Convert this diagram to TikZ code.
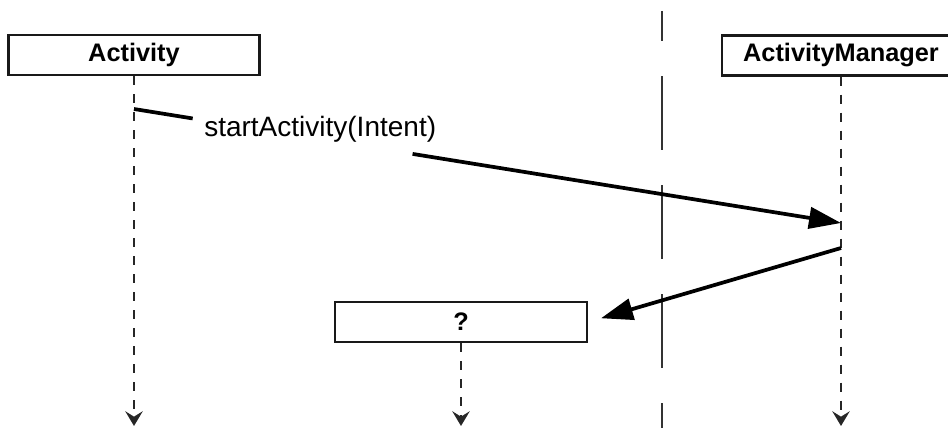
\documentclass[tikz,border=0pt]{standalone}
\usepackage{fontspec}
\setmainfont{Liberation Sans}
\usetikzlibrary{arrows.meta,calc}
\begin{document}
\begin{tikzpicture}[x=0.75pt,y=-0.75pt,
  objbox/.style={draw=black!90, line width=1.8pt, fill=white, inner sep=0pt,
    minimum height=30pt, font=\bfseries\fontsize{19}{22}\selectfont},
  lifeline/.style={draw=black!85, line width=1.7pt, dash pattern=on 6.75pt off 6.75pt,
    -{Stealth[length=11pt,width=13pt,inset=4pt]}},
  msgline/.style={draw=black, line width=2.8pt},
  msg/.style={msgline, -{Triangle[length=24pt,width=16pt]}},
  divider/.style={draw=black!80, line width=2.2pt,
    dash pattern=on 55.5pt off 26.25pt, dash phase=33pt},
  msglabel/.style={anchor=west, inner sep=0pt, font=\fontsize{21}{24}\selectfont}
]
\useasboundingbox (0,0) rectangle (948,428);
\clip (0,0) rectangle (948,428);

% system boundary
\coordinate (divtop) at (662,11);
\coordinate (divbot) at (662,428);
\draw[divider] (divtop) -- (divbot);

% participants
\node[objbox, minimum width=188pt] (act) at (134,55) {Activity};
\node[objbox, minimum width=178.5pt] (am) at (841,55.5) {ActivityManager};
\node[objbox, minimum width=189pt] (q) at (461,322) {?};

% lifelines
\coordinate (actend) at (134,426);
\coordinate (amend) at (841,426);
\coordinate (qend) at (461,426);
\draw[lifeline] (act.south) -- (actend);
\draw[lifeline] (am.south) -- (amend);
\draw[lifeline] (q.south) -- (qend);

% startActivity(Intent) message, broken around its label
\coordinate (m1s) at (134,109);
\coordinate (m1e) at (841,223);
\draw[msgline] (m1s) -- ($(m1s)!0.083!(m1e)$);
\draw[msg] ($(m1s)!0.394!(m1e)$) -- (m1e);
\node[msglabel] (lbl) at (204,129) {startActivity(Intent)};

% reply from the ActivityManager to the unknown component
\coordinate (m2s) at (841,248);
\draw[msg, shorten >=10pt] (m2s) -- (q.east);
\end{tikzpicture}
\end{document}
